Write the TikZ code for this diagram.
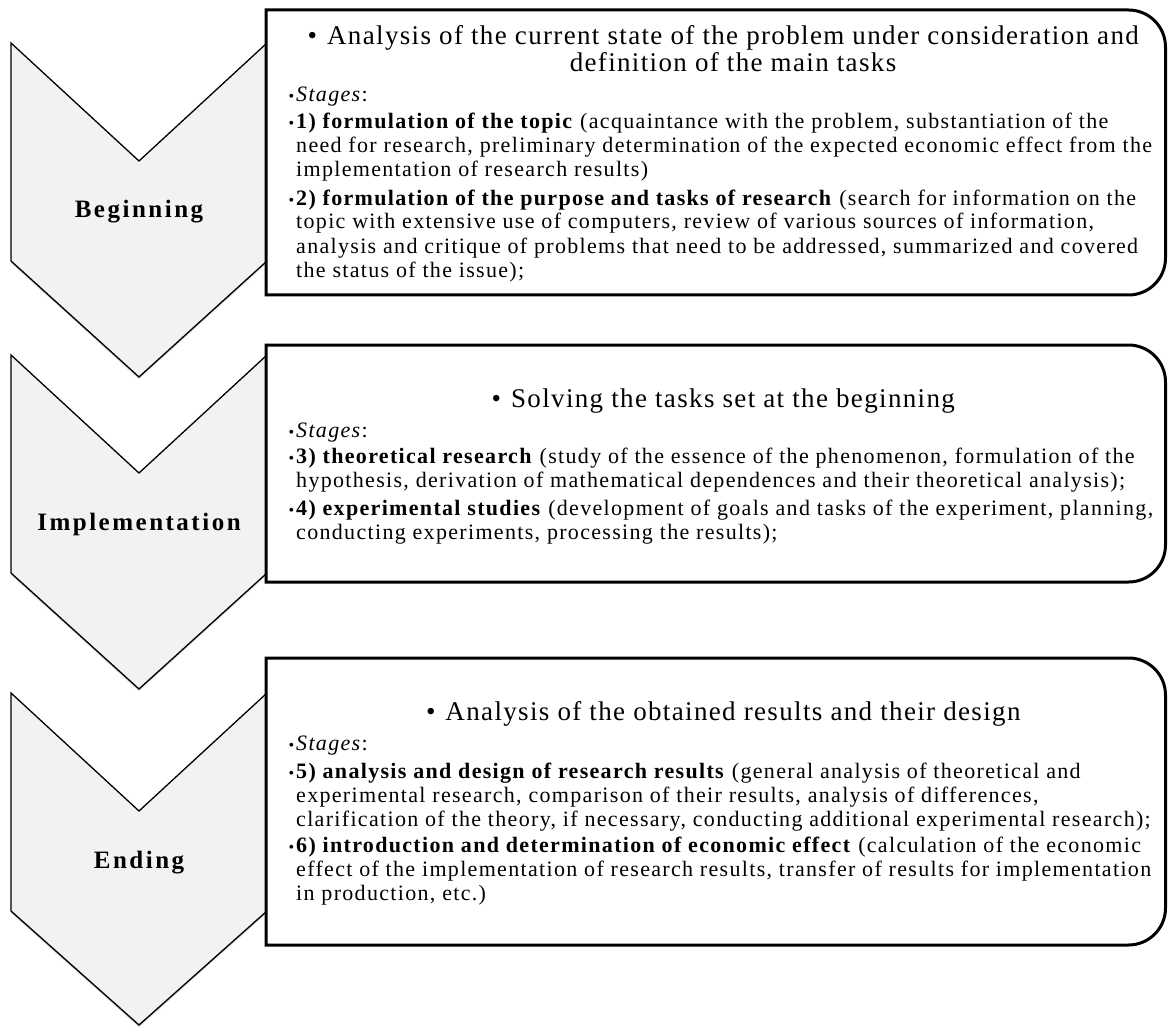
\documentclass[tikz,border=0pt]{standalone}
\usepackage{fontspec}
\setmainfont{Liberation Serif}
\usetikzlibrary{shadows}

% bullets: the large one hangs before a heading, the small one before a stage line
\newcommand{\headbul}{\llap{\textbullet\hspace{10pt}}}
\newcommand{\bodybul}{\llap{{\fontsize{16}{16}\selectfont\textbullet}\hspace{2pt}}}

% multi-line nodes are placed by the baseline of their last line
\tikzset{
  chevron/.style={draw=black, line width=1.3pt, fill=black!5, line join=miter,
    drop shadow={shadow xshift=0pt, shadow yshift=-2pt, opacity=0.18, fill=black}},
  stagebox/.style={draw=black, line width=3pt, fill=white, line join=miter},
  phase/.style={font=\fontsize{25}{27}\selectfont\bfseries\addfontfeature{LetterSpace=10},
    anchor=base, inner sep=0pt},
  headtext/.style={font=\fontsize{27}{27}\selectfont\addfontfeature{LetterSpace=5},
    anchor=base, align=center, inner sep=0pt},
  bodytext/.style={font=\fontsize{22}{24}\selectfont\addfontfeature{LetterSpace=6},
    anchor=base west, align=left, inner sep=0pt},
}

\begin{document}
\begin{tikzpicture}[x=1pt, y=-1pt]
\useasboundingbox (0,0) rectangle (1168,1027);

% ---- phase chevrons ----
\draw[chevron] (11,43)  -- (139,161) -- (267,43)  -- (267,261) -- (139,377)  -- (11,261) -- cycle;
\draw[chevron] (11,355) -- (139,473) -- (267,355) -- (267,573) -- (139,689)  -- (11,573) -- cycle;
\draw[chevron] (11,693) -- (139,811) -- (267,693) -- (267,911) -- (139,1025) -- (11,911) -- cycle;

\node[phase] (begin) at (139,218) {Beginning};
\node[phase] (impl)  at (139,530) {Implementation};
\node[phase] (end)   at (139,868) {Ending};

% ---- stage boxes: square on the left, rounded on the right ----
\draw[stagebox] (266,10) -- (1128.5,10) arc[start angle=-90, end angle=0, radius=37]
  -- (1165.5,258) arc[start angle=0, end angle=90, radius=37] -- (266,295) -- cycle;
\draw[stagebox] (266,345) -- (1128.5,345) arc[start angle=-90, end angle=0, radius=37]
  -- (1165.5,545) arc[start angle=0, end angle=90, radius=37] -- (266,582) -- cycle;
\draw[stagebox] (266,658) -- (1128.5,658) arc[start angle=-90, end angle=0, radius=37]
  -- (1165.5,908) arc[start angle=0, end angle=90, radius=37] -- (266,945) -- cycle;

% ---- box 1 ----
\node[headtext] (h1) at (733,72) {\headbul Analysis of the current state of the problem under consideration and\\
definition of the main tasks};
\node[bodytext] (s1) at (296,102) {\bodybul\textit{Stages}:};
\node[bodytext] (st1) at (296,177) {\bodybul\textbf{1) formulation of the topic} (acquaintance with the problem, substantiation of the\\
need for research, preliminary determination of the expected economic effect from the\\
implementation of research results)};
\node[bodytext] (st2) at (296,277) {\bodybul\textbf{2) formulation of the purpose and tasks of research} (search for information on the\\
topic with extensive use of computers, review of various sources of information,\\
analysis and critique of problems that need to be addressed, summarized and covered\\
the status of the issue);};

% ---- box 2 ----
\node[headtext] (h2) at (733,407) {\headbul Solving the tasks set at the beginning};
\node[bodytext] (s2) at (296,437) {\bodybul\textit{Stages}:};
\node[bodytext] (st3) at (296,487) {\bodybul\textbf{3) theoretical research} (study of the essence of the phenomenon, formulation of the\\
hypothesis, derivation of mathematical dependences and their theoretical analysis);};
\node[bodytext] (st4) at (296,539) {\bodybul\textbf{4) experimental studies} (development of goals and tasks of the experiment, planning,\\
conducting experiments, processing the results);};

% ---- box 3 ----
\node[headtext] (h3) at (733,720) {\headbul Analysis of the obtained results and their design};
\node[bodytext] (s3) at (296,750) {\bodybul\textit{Stages}:};
\node[bodytext] (st5) at (296,826) {\bodybul\textbf{5) analysis and design of research results} (general analysis of theoretical and\\
experimental research, comparison of their results, analysis of differences,\\
clarification of the theory, if necessary, conducting additional experimental research);};
\node[bodytext] (st6) at (296,900) {\bodybul\textbf{6) introduction and determination of economic effect} (calculation of the economic\\
effect of the implementation of research results, transfer of results for implementation\\
in production, etc.)};
\end{tikzpicture}
\end{document}
